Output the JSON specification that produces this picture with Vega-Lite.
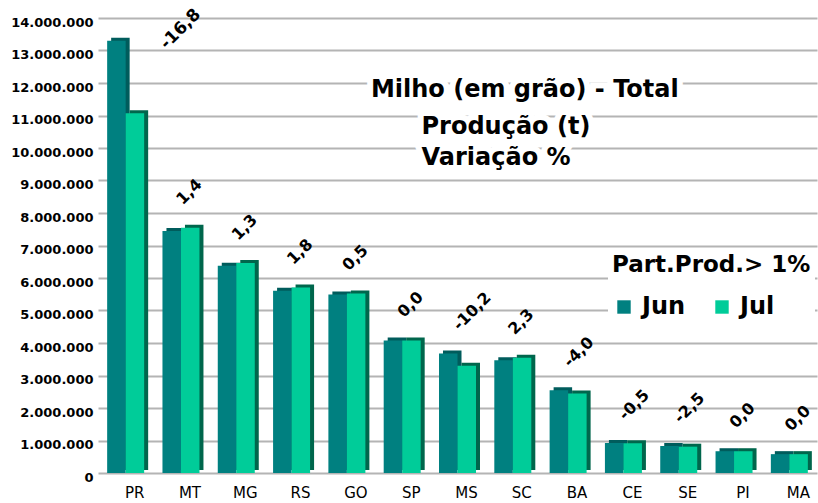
{
  "$schema": "https://vega.github.io/schema/vega-lite/v6.json",
  "width": 719,
  "height": 455,
  "autosize": {"type": "none"},
  "padding": {"left": 98, "top": 18, "right": 1, "bottom": 30},
  "background": "white",
  "config": {
    "view": {"stroke": null},
    "font": "DejaVu Sans"
  },
  "data": {
    "values": [
      {"state": "PR", "Jun": 13300000, "Jul": 11070000, "var": "-16,8"},
      {"state": "MT", "Jun": 7450000, "Jul": 7550000, "var": "1,4"},
      {"state": "MG", "Jun": 6380000, "Jul": 6460000, "var": "1,3"},
      {"state": "RS", "Jun": 5610000, "Jul": 5710000, "var": "1,8"},
      {"state": "GO", "Jun": 5490000, "Jul": 5520000, "var": "0,5"},
      {"state": "SP", "Jun": 4080000, "Jul": 4080000, "var": "0,0"},
      {"state": "MS", "Jun": 3680000, "Jul": 3300000, "var": "-10,2"},
      {"state": "SC", "Jun": 3470000, "Jul": 3550000, "var": "2,3"},
      {"state": "BA", "Jun": 2550000, "Jul": 2450000, "var": "-4,0"},
      {"state": "CE", "Jun": 920000, "Jul": 915000, "var": "-0,5"},
      {"state": "SE", "Jun": 830000, "Jul": 810000, "var": "-2,5"},
      {"state": "PI", "Jun": 670000, "Jul": 670000, "var": "0,0"},
      {"state": "MA", "Jun": 580000, "Jul": 580000, "var": "0,0"}
    ]
  },
  "resolve": {"axis": {"y": "independent"}},
  "encoding": {
    "x": {
      "field": "state",
      "type": "nominal",
      "sort": null,
      "scale": {"paddingInner": 0.33, "paddingOuter": 0.165},
      "axis": {
        "title": null,
        "labelAngle": 0,
        "domain": false,
        "ticks": false,
        "grid": false,
        "labelFont": "DejaVu Sans",
        "labelFontSize": 15,
        "labelColor": "black",
        "labelPadding": 12,
        "labelOffset": 9
      }
    }
  },
  "layer": [
    {
      "mark": {"type": "bar", "width": 18.5, "xOffset": -5.25, "yOffset": -3, "y2Offset": -3, "color": "#005c5c"},
      "encoding": {
        "y": {
          "field": "Jun",
          "type": "quantitative",
          "scale": {"domain": [0, 14000000], "nice": false},
          "axis": {
            "title": null,
            "values": [0, 1000000, 2000000, 3000000, 4000000, 5000000, 6000000, 7000000, 8000000, 9000000, 10000000, 11000000, 12000000, 13000000, 14000000],
            "grid": false,
            "zindex": 0,
            "labelOverlap": false,
            "domain": false,
            "ticks": true,
            "tickSize": -719,
            "tickColor": "#b4b4b4",
            "tickWidth": 2,
            "tickOpacity": 1,
            "labelFont": "DejaVu Sans",
            "labelFontWeight": "bold",
            "labelFontSize": 13,
            "labelColor": "black",
            "labelPadding": 724,
            "labelOffset": 4,
            "labelExpr": "replace(format(datum.value, ','), regexp(',', 'g'), '.')"
          }
        }
      }
    },
    {
      "mark": {"type": "bar", "width": 18.5, "xOffset": -9.25},
      "encoding": {
        "y": {"field": "Jun", "type": "quantitative", "axis": null},
        "color": {
          "datum": "Jun",
          "type": "nominal",
          "scale": {"domain": ["Jun", "Jul"], "range": ["#008080", "#00cc99"]},
          "legend": {
            "title": "Part.Prod.> 1%",
            "orient": "none",
            "legendX": 510,
            "legendY": 232,
            "direction": "horizontal",
            "fillColor": "white",
            "padding": 4,
            "titleFont": "DejaVu Sans",
            "titleFontSize": 23,
            "titleFontWeight": "bold",
            "titleColor": "black",
            "titlePadding": 18,
            "titleLimit": 400,
            "labelFont": "DejaVu Sans",
            "labelFontSize": 24,
            "labelFontWeight": "bold",
            "labelColor": "black",
            "labelOffset": 6,
            "symbolType": "square",
            "symbolSize": 180,
            "symbolStrokeWidth": 0,
            "columnPadding": 24
          }
        }
      }
    },
    {
      "mark": {"type": "bar", "width": 18.5, "xOffset": 13.25, "yOffset": -3, "y2Offset": -3, "color": "#00664c"},
      "encoding": {
        "y": {"field": "Jul", "type": "quantitative", "axis": null}
      }
    },
    {
      "mark": {"type": "bar", "width": 18.5, "xOffset": 9.25},
      "encoding": {
        "y": {"field": "Jul", "type": "quantitative", "axis": null},
        "color": {"datum": "Jul", "type": "nominal"}
      }
    },
    {
      "transform": [
        {"filter": "datum.state !== 'PR'"},
        {"fold": ["Jun", "Jul"], "as": ["mes", "valor"]},
        {"aggregate": [{"op": "max", "field": "valor", "as": "topo"}], "groupby": ["state", "var"]}
      ],
      "mark": {"type": "text", "angle": -45, "align": "left", "baseline": "bottom", "font": "DejaVu Sans", "fontWeight": "bold", "fontSize": 16, "color": "black", "xOffset": 4, "yOffset": -20},
      "encoding": {
        "y": {"field": "topo", "type": "quantitative", "axis": null},
        "text": {"field": "var"}
      }
    },
    {
      "transform": [
        {"filter": "datum.state === 'PR'"},
        {"fold": ["Jun", "Jul"], "as": ["mes", "valor"]},
        {"aggregate": [{"op": "max", "field": "valor", "as": "topo"}], "groupby": ["state", "var"]}
      ],
      "mark": {"type": "text", "angle": -45, "align": "left", "baseline": "bottom", "font": "DejaVu Sans", "fontWeight": "bold", "fontSize": 17, "color": "black", "xOffset": 44, "yOffset": 12},
      "encoding": {
        "y": {"field": "topo", "type": "quantitative", "axis": null},
        "text": {"field": "var"}
      }
    },
    {
      "data": {"values": [{"linha": "Milho (em grão) - Total"}]},
      "mark": {"type": "text", "align": "center", "baseline": "middle", "font": "DejaVu Sans", "fontWeight": "bold", "fontSize": 24, "color": "white", "stroke": "white", "strokeWidth": 12, "xOffset": 12},
      "encoding": {
        "x": {"datum": "SC"},
        "y": {"datum": 11780000, "type": "quantitative", "axis": null},
        "text": {"field": "linha"}
      }
    },
    {
      "data": {"values": [{"linha": "Produção (t)"}]},
      "mark": {"type": "text", "align": "left", "baseline": "middle", "font": "DejaVu Sans", "fontWeight": "bold", "fontSize": 24, "color": "white", "stroke": "white", "strokeWidth": 12, "xOffset": -36},
      "encoding": {
        "x": {"datum": "MS"},
        "y": {"datum": 10650000, "type": "quantitative", "axis": null},
        "text": {"field": "linha"}
      }
    },
    {
      "data": {"values": [{"linha": "Variação %"}]},
      "mark": {"type": "text", "align": "left", "baseline": "middle", "font": "DejaVu Sans", "fontWeight": "bold", "fontSize": 24, "color": "white", "stroke": "white", "strokeWidth": 12, "xOffset": -36},
      "encoding": {
        "x": {"datum": "MS"},
        "y": {"datum": 9690000, "type": "quantitative", "axis": null},
        "text": {"field": "linha"}
      }
    },
    {
      "data": {"values": [{"linha": "Milho (em grão) - Total"}]},
      "mark": {"type": "text", "align": "center", "baseline": "middle", "font": "DejaVu Sans", "fontWeight": "bold", "fontSize": 24, "color": "black", "xOffset": 12},
      "encoding": {
        "x": {"datum": "SC"},
        "y": {"datum": 11780000, "type": "quantitative", "axis": null},
        "text": {"field": "linha"}
      }
    },
    {
      "data": {"values": [{"linha": "Produção (t)"}]},
      "mark": {"type": "text", "align": "left", "baseline": "middle", "font": "DejaVu Sans", "fontWeight": "bold", "fontSize": 24, "color": "black", "xOffset": -36},
      "encoding": {
        "x": {"datum": "MS"},
        "y": {"datum": 10650000, "type": "quantitative", "axis": null},
        "text": {"field": "linha"}
      }
    },
    {
      "data": {"values": [{"linha": "Variação %"}]},
      "mark": {"type": "text", "align": "left", "baseline": "middle", "font": "DejaVu Sans", "fontWeight": "bold", "fontSize": 24, "color": "black", "xOffset": -36},
      "encoding": {
        "x": {"datum": "MS"},
        "y": {"datum": 9690000, "type": "quantitative", "axis": null},
        "text": {"field": "linha"}
      }
    }
  ]
}
